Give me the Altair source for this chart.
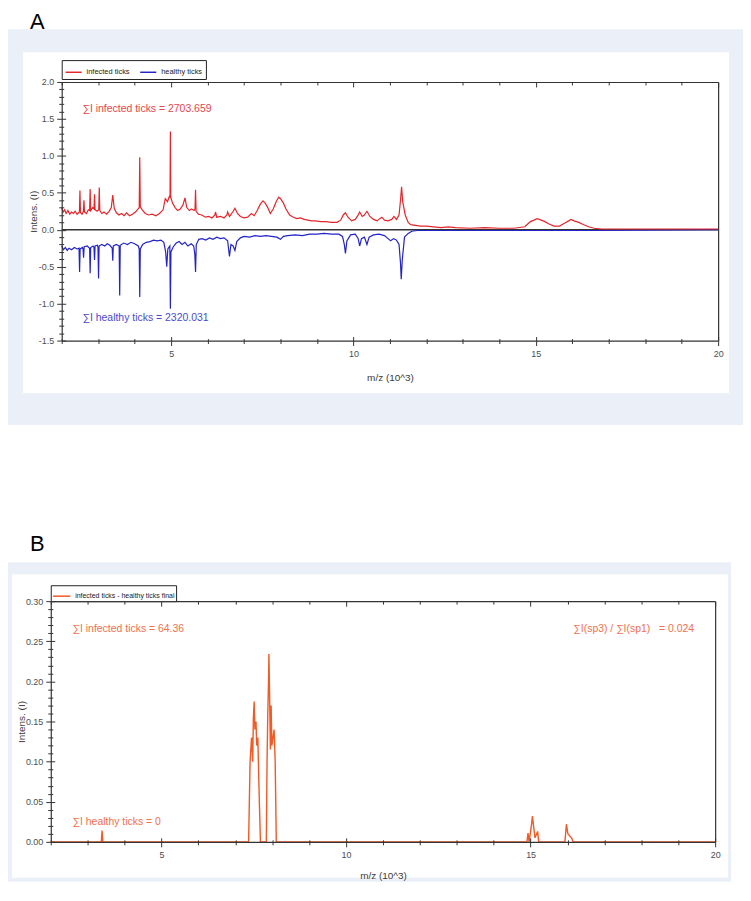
import altair as alt
import pandas as pd

# ---------------- data ----------------
# Panel A, infected ticks: (m/z in 10^3, intensity)
infected = [
    (2.00, 0.30), (2.04, 0.24), (2.08, 0.27), (2.12, 0.22), (2.17, 0.26), (2.22, 0.21),
    (2.27, 0.24), (2.32, 0.22), (2.37, 0.25), (2.42, 0.21), (2.485, 0.24), (2.50, 0.53),
    (2.515, 0.23), (2.56, 0.21), (2.595, 0.25), (2.61, 0.40), (2.625, 0.24), (2.68, 0.22),
    (2.73, 0.27), (2.765, 0.26), (2.78, 0.55), (2.795, 0.26), (2.85, 0.30), (2.885, 0.28),
    (2.90, 0.48), (2.915, 0.27), (2.97, 0.25), (3.015, 0.27), (3.03, 0.57), (3.045, 0.26),
    (3.10, 0.22), (3.16, 0.24), (3.23, 0.21), (3.30, 0.25), (3.36, 0.30), (3.40, 0.47),
    (3.44, 0.29), (3.50, 0.23), (3.57, 0.20), (3.64, 0.22), (3.71, 0.19), (3.78, 0.23),
    (3.86, 0.19), (3.94, 0.21), (4.02, 0.24), (4.09, 0.28), (4.125, 0.30), (4.14, 0.98),
    (4.155, 0.31), (4.21, 0.27), (4.29, 0.22), (4.38, 0.20), (4.48, 0.21), (4.58, 0.19),
    (4.68, 0.22), (4.78, 0.27), (4.84, 0.42), (4.90, 0.38), (4.95, 0.45), (4.97, 0.44),
    (4.98, 1.33), (4.99, 0.44), (5.04, 0.36), (5.11, 0.30), (5.18, 0.26), (5.25, 0.28),
    (5.32, 0.33), (5.38, 0.43), (5.43, 0.30), (5.50, 0.26), (5.56, 0.28), (5.63, 0.26),
    (5.655, 0.28), (5.67, 0.54), (5.685, 0.25), (5.75, 0.21), (5.84, 0.20), (5.94, 0.17),
    (6.03, 0.18), (6.12, 0.16), (6.20, 0.20), (6.22, 0.24), (6.25, 0.17), (6.36, 0.18),
    (6.45, 0.16), (6.53, 0.20), (6.55, 0.24), (6.60, 0.18), (6.69, 0.24), (6.75, 0.29),
    (6.82, 0.22), (6.90, 0.18), (7.00, 0.16), (7.10, 0.17), (7.20, 0.22), (7.28, 0.19),
    (7.36, 0.26), (7.45, 0.35), (7.52, 0.39), (7.58, 0.36), (7.65, 0.30), (7.72, 0.22),
    (7.80, 0.28), (7.88, 0.38), (7.95, 0.44), (8.00, 0.42), (8.08, 0.36), (8.15, 0.28),
    (8.25, 0.20), (8.35, 0.17), (8.45, 0.15), (8.55, 0.16), (8.65, 0.14), (8.75, 0.13),
    (8.85, 0.12), (8.95, 0.12), (9.10, 0.11), (9.25, 0.11), (9.40, 0.10), (9.55, 0.10),
    (9.65, 0.13), (9.72, 0.20), (9.78, 0.23), (9.85, 0.17), (9.95, 0.12), (10.05, 0.14),
    (10.12, 0.19), (10.17, 0.24), (10.24, 0.18), (10.30, 0.20), (10.37, 0.25), (10.45, 0.18),
    (10.55, 0.14), (10.65, 0.12), (10.72, 0.15), (10.78, 0.17), (10.85, 0.13), (10.95, 0.12),
    (11.05, 0.14), (11.11, 0.18), (11.18, 0.14), (11.25, 0.20), (11.29, 0.40), (11.32, 0.58),
    (11.35, 0.38), (11.42, 0.20), (11.50, 0.10), (11.57, 0.07), (11.70, 0.06), (11.85, 0.05),
    (12.00, 0.05), (12.20, 0.04), (12.40, 0.03), (12.60, 0.04), (12.80, 0.03), (13.20, 0.02),
    (13.60, 0.03), (14.00, 0.02), (14.40, 0.02), (14.70, 0.04), (14.85, 0.11), (14.95, 0.13),
    (15.04, 0.15), (15.15, 0.13), (15.25, 0.11), (15.35, 0.08), (15.50, 0.05), (15.65, 0.05),
    (15.80, 0.09), (15.90, 0.12), (15.96, 0.14), (16.05, 0.12), (16.18, 0.10), (16.30, 0.07),
    (16.45, 0.04), (16.60, 0.02), (16.80, 0.01), (18.00, 0.01), (20.00, 0.01),
]

# Panel A, healthy ticks (mirrored below zero)
healthy = [
    (2.00, -0.22), (2.05, -0.27), (2.10, -0.24), (2.15, -0.28), (2.20, -0.25), (2.27, -0.27),
    (2.35, -0.24), (2.42, -0.26), (2.475, -0.25), (2.49, -0.57), (2.505, -0.26), (2.57, -0.24),
    (2.585, -0.26), (2.60, -0.38), (2.615, -0.23), (2.70, -0.22), (2.765, -0.25), (2.78, -0.59),
    (2.795, -0.24), (2.86, -0.22), (2.885, -0.24), (2.90, -0.41), (2.915, -0.22), (2.98, -0.21),
    (2.995, -0.24), (3.01, -0.66), (3.025, -0.22), (3.10, -0.20), (3.18, -0.22), (3.25, -0.19),
    (3.32, -0.21), (3.385, -0.25), (3.40, -0.42), (3.415, -0.22), (3.50, -0.20), (3.575, -0.22),
    (3.59, -0.89), (3.605, -0.21), (3.70, -0.18), (3.80, -0.20), (3.90, -0.17), (4.00, -0.19),
    (4.10, -0.22), (4.125, -0.26), (4.14, -0.91), (4.155, -0.26), (4.22, -0.20), (4.32, -0.17),
    (4.42, -0.16), (4.52, -0.14), (4.62, -0.15), (4.72, -0.14), (4.80, -0.17), (4.85, -0.30),
    (4.88, -0.50), (4.91, -0.26), (4.965, -0.22), (4.98, -1.07), (4.995, -0.30), (5.06, -0.23),
    (5.14, -0.18), (5.22, -0.16), (5.30, -0.20), (5.38, -0.17), (5.46, -0.22), (5.55, -0.19),
    (5.62, -0.22), (5.65, -0.33), (5.67, -0.57), (5.69, -0.20), (5.76, -0.13), (5.85, -0.12),
    (5.95, -0.14), (6.05, -0.11), (6.15, -0.13), (6.25, -0.10), (6.35, -0.12), (6.45, -0.11),
    (6.55, -0.15), (6.60, -0.36), (6.64, -0.20), (6.70, -0.22), (6.75, -0.28), (6.80, -0.16),
    (6.90, -0.11), (7.00, -0.09), (7.15, -0.10), (7.30, -0.08), (7.45, -0.09), (7.60, -0.08),
    (7.75, -0.09), (7.90, -0.10), (8.00, -0.13), (8.08, -0.09), (8.20, -0.08), (8.40, -0.07),
    (8.60, -0.08), (8.80, -0.06), (9.00, -0.06), (9.20, -0.05), (9.40, -0.06), (9.60, -0.06),
    (9.70, -0.09), (9.75, -0.20), (9.78, -0.32), (9.82, -0.15), (9.92, -0.07), (10.05, -0.06),
    (10.13, -0.12), (10.17, -0.22), (10.22, -0.12), (10.30, -0.10), (10.37, -0.20), (10.43, -0.10),
    (10.55, -0.07), (10.70, -0.06), (10.85, -0.08), (10.95, -0.12), (11.02, -0.15), (11.10, -0.12),
    (11.18, -0.14), (11.25, -0.20), (11.29, -0.45), (11.31, -0.67), (11.34, -0.40), (11.40, -0.10),
    (11.50, -0.05), (11.60, -0.02), (11.75, -0.01), (12.00, -0.01), (14.00, -0.01), (16.70, -0.01),
    (20.00, 0.00),
]

# Panel B, infected minus healthy
difference = [
    (2.00, 0.0), (3.37, 0.0), (3.39, 0.014), (3.41, 0.0), (7.36, 0.0), (7.40, 0.10),
    (7.44, 0.13), (7.47, 0.10), (7.49, 0.155), (7.51, 0.175), (7.53, 0.14), (7.56, 0.15),
    (7.58, 0.12), (7.61, 0.13), (7.64, 0.07), (7.68, 0.0), (7.84, 0.0), (7.86, 0.10),
    (7.88, 0.16), (7.90, 0.20), (7.91, 0.234), (7.93, 0.18), (7.95, 0.115), (7.97, 0.17),
    (7.99, 0.12), (8.02, 0.13), (8.05, 0.14), (8.08, 0.10), (8.11, 0.0), (14.90, 0.0),
    (14.93, 0.011), (14.96, 0.0), (15.02, 0.02), (15.05, 0.032), (15.08, 0.02), (15.12, 0.005),
    (15.19, 0.013), (15.22, 0.0), (15.93, 0.0), (15.97, 0.022), (16.01, 0.01), (16.12, 0.004),
    (16.15, 0.0), (20.00, 0.0),
]

series_a = ["infected ticks", "healthy ticks"]
series_b = ["infected ticks - healthy ticks final"]
x_ticks = list(range(2, 21))
ya_ticks = [round(-1.5 + 0.1 * i, 1) for i in range(36)]
yb_ticks = [round(0.01 * i, 2) for i in range(31)]

# ---------------- styling ----------------
RED, BLUE, ORANGE = "#e4262b", "#2323c6", "#f15a24"
RED_TXT, BLUE_TXT, ORANGE_TXT = "#e8454a", "#4a4ad0", "#f2704e"
BG = "#ebf0f8"
AX = "#333333"
LBL = "#4d4d4d"
SANS = "'Liberation Sans', Arial, sans-serif"

one = alt.Data(values=[{"k": 0}])


def rect(x0, x1, y0, y1, color):
    return alt.Chart(one).mark_rect(color=color, strokeWidth=0).encode(
        x=alt.value(x0), x2=alt.value(x1), y=alt.value(y0), y2=alt.value(y1))


def letter(text, x, y):
    return alt.Chart(one).mark_text(
        text=text, fontSize=22, font=SANS, color="black", align="left", baseline="top"
    ).encode(x=alt.value(x), y=alt.value(y))


def note(text, mz, inten, color, align="left"):
    return alt.Chart(one).mark_text(
        text=text, fontSize=10.5, font=SANS, color=color, align=align, baseline="middle"
    ).encode(
        x=alt.XDatum(datum=mz, type="quantitative", axis=None),
        y=alt.YDatum(datum=inten, type="quantitative", axis=None))


def cond(test, big, small):
    return {"condition": {"test": test, "value": big}, "value": small}


def axis_layers(df, xs, ys, yt, ytest, yfmt, w, h, left, xtitle_y, ytitle_x):
    xtest = "datum.value % 5 == 0"
    base = alt.Chart(df).mark_point(opacity=0)
    common = dict(zindex=1, grid=False, domainColor=AX, tickColor=AX, domainWidth=1.2, tickWidth=1)
    ylab = "(" + ytest + ") ? replace(format(datum.value, '" + yfmt + "'), '\u2212', '-') : ''"
    main = base.encode(
        x=alt.X("mz:Q", scale=xs, axis=alt.Axis(
            orient="bottom", values=x_ticks, labelExpr="(" + xtest + ") ? datum.label : ''",
            tickSize=cond(xtest, 5, 3), labelFont=SANS, labelFontSize=9, labelColor=LBL,
            labelPadding=4, labelFlush=False, labelOverlap=False,
            title="m/z (10^3)", titleFont=SANS, titleFontSize=10, titleFontWeight="normal",
            titleColor="#3a3a3a", titleY=xtitle_y, titleBaseline="middle", **common)),
        y=alt.Y("I:Q", scale=ys, axis=alt.Axis(
            orient="left", offset=left, values=yt, labelExpr=ylab,
            tickSize=cond(ytest, 5, 3), labelFont=SANS, labelFontSize=9, labelColor=LBL,
            labelPadding=3, labelOverlap=False,
            title="Intens. (I)", titleFont=SANS, titleFontSize=10, titleFontWeight="normal",
            titleColor="#3a3a3a", titleX=ytitle_x, titleBaseline="middle", **common)))
    border = base.encode(
        x=alt.X("mz:Q", scale=xs, axis=alt.Axis(
            orient="bottom", offset=-h, values=x_ticks, labels=False,
            tickSize=cond(xtest, 5, 3), title=None, **common)),
        y=alt.Y("I:Q", scale=ys, axis=alt.Axis(
            orient="right", labels=False, ticks=False, title=None, **common)))
    inner = base.encode(
        x=alt.X("mz:Q", scale=xs, axis=alt.Axis(
            orient="top", offset=-h, values=x_ticks, labels=False, domain=False,
            tickSize=cond(xtest, 4, 2), title=None, **common)),
        y=alt.Y("I:Q", scale=ys, axis=alt.Axis(
            orient="right", offset=-(w + left), values=yt, labels=False, domain=False,
            tickSize=cond(ytest, 4, 2), title=None, **common)))
    return [main, border, inner]


def spec_line(df, xs, ys, col, sw):
    return alt.Chart(df).mark_line(strokeWidth=sw).encode(
        x=alt.X("mz:Q", scale=xs, axis=None), y=alt.Y("I:Q", scale=ys, axis=None), color=col)


# ---------------- panel A ----------------
WA, HA = 660, 260
dfI = pd.DataFrame(infected, columns=["mz", "I"]).assign(series=series_a[0])
dfH = pd.DataFrame(healthy, columns=["mz", "I"]).assign(series=series_a[1])
xsA = alt.Scale(domain=[2, 20], nice=False, zero=False)
ysA = alt.Scale(domain=[-1.5, 2.0], nice=False, zero=False)
legA = alt.Legend(title=None, orient="none", legendX=0, legendY=-22, direction="horizontal",
                  zindex=1, strokeColor="#222222", fillColor="white", padding=3,
                  symbolType="stroke", symbolSize=260, symbolStrokeWidth=1.5,
                  labelFont=SANS, labelFontSize=7.5, labelColor="#222222",
                  columnPadding=6, labelOffset=4)
colA = alt.Color("series:N", scale=alt.Scale(domain=series_a, range=[RED, BLUE]), legend=legA)

zeroA = alt.Chart(one).mark_rule(color="#333333", strokeWidth=1.5).encode(
    y=alt.YDatum(datum=0, type="quantitative", axis=None))

panelA = alt.layer(
    rect(-54, 681, -72, 400, "white"),
    rect(-54, 685, -53, 345, BG),
    rect(-39, 671, -30, 313, "white"),
    letter("A", -32, -70),
    zeroA,
    spec_line(dfH, xsA, ysA, colA, 1.2),
    spec_line(dfI, xsA, ysA, colA, 1.2),
    note("\u2211I infected ticks = 2703.659", 2.57, 1.64, RED_TXT),
    note("\u2211I healthy ticks = 2320.031", 2.57, -1.19, BLUE_TXT),
    *axis_layers(dfI, xsA, ysA, ya_ticks, "abs(datum.value*2 - round(datum.value*2)) < 0.001",
                 ".1f", WA, HA, 0, 37, -28),
).properties(width=WA, height=HA).resolve_axis(x="independent", y="independent")

# ---------------- panel B ----------------
WB, HB = 657, 242
dfD = pd.DataFrame(difference, columns=["mz", "I"]).assign(series=series_b[0])
xsB = alt.Scale(domain=[2, 20], range=[-11, WB], nice=False, zero=False)
ysB = alt.Scale(domain=[0, 0.30], nice=False, zero=False)
legB = alt.Legend(title=None, orient="none", legendX=-11, legendY=-16, direction="horizontal",
                  zindex=1, strokeColor="#222222", fillColor="white", padding=1.5,
                  symbolType="stroke", symbolSize=300, symbolStrokeWidth=1.5,
                  labelFont=SANS, labelFontSize=7, labelColor="#222222", labelOffset=4)
colB = alt.Color("series:N", scale=alt.Scale(domain=series_b, range=[ORANGE]), legend=legB)

panelB = alt.layer(
    rect(-54, 681, -122, 282, "white"),
    rect(-54, 673, -39, 282, BG),
    rect(-50, 670, -27, 278, "white"),
    letter("B", -32, -67),
    spec_line(dfD, xsB, ysB, colB, 1.4),
    note("\u2211I infected ticks = 64.36", 2.59, 0.265, ORANGE_TXT),
    note("\u2211I(sp3) / \u2211I(sp1)\u00a0\u00a0\u00a0= 0.024", 19.43, 0.265, ORANGE_TXT, "right"),
    note("\u2211I healthy ticks = 0", 2.59, 0.025, ORANGE_TXT),
    *axis_layers(dfD, xsB, ysB, yb_ticks, "abs(datum.value*20 - round(datum.value*20)) < 0.001",
                 ".2f", WB, HB, 11, 34, -29),
).properties(width=WB, height=HB).resolve_axis(x="independent", y="independent")

chart = alt.vconcat(panelA, panelB, spacing=0).resolve_scale(color="independent").properties(
    padding=0, background="white").configure_view(stroke=None)

chart.save("out.html", embed_options={"renderer": "svg", "actions": False})
